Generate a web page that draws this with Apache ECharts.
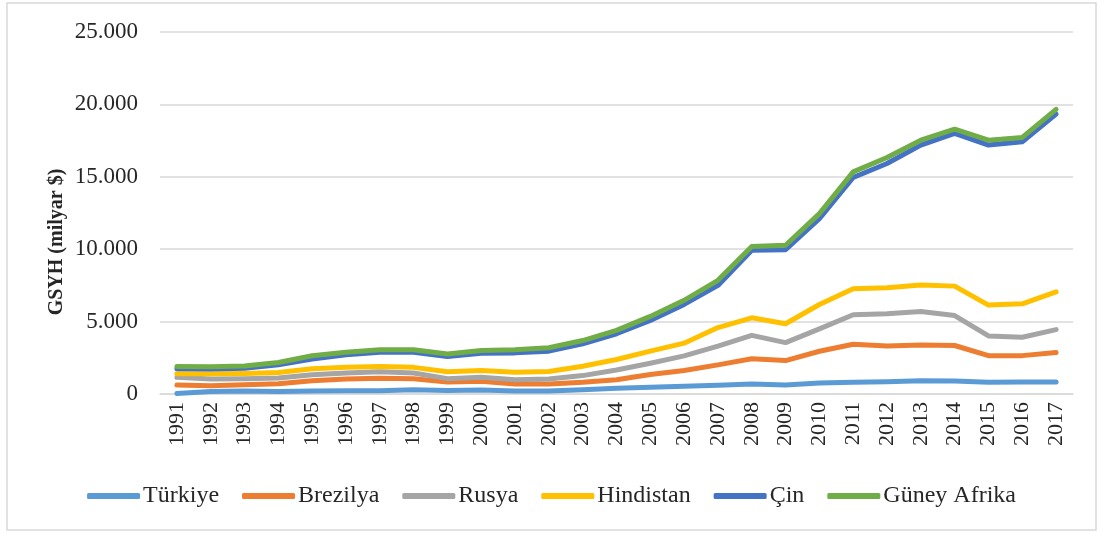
<!DOCTYPE html>
<html>
<head>
<meta charset="utf-8">
<script src="https://cdn.jsdelivr.net/npm/echarts@6/dist/echarts.min.js"></script>
<style>
html,body{margin:0;padding:0;background:#fff;}
#abc{width:1103px;height:534px;}
</style>
</head>
<body>
<div id="abc"></div>
<script>
//yillar (X ekseni)
var years=['1991','1992','1993','1994','1995','1996','1997','1998','1999','2000','2001','2002','2003','2004','2005','2006','2007','2008','2009','2010','2011','2012','2013','2014','2015','2016','2017'];
//grafikteki birikimli degerler (milyar $)
var turkiye=[30,180,210,180,210,230,230,300,250,280,210,210,300,390,460,530,600,690,620,760,810,850,920,900,810,830,830];
var brezilya=[620,570,640,710,920,1030,1080,1060,830,880,690,690,810,990,1340,1620,2010,2430,2310,2950,3440,3320,3390,3350,2650,2650,2860];
var rusya=[1150,1030,1060,1100,1330,1450,1540,1450,1060,1150,990,1040,1270,1660,2120,2630,3300,4050,3550,4500,5470,5540,5700,5420,4010,3920,4450];
var hindistan=[1400,1400,1420,1490,1740,1840,1900,1840,1530,1620,1500,1550,1920,2380,2960,3510,4590,5260,4850,6180,7270,7340,7520,7450,6140,6230,7060];
var cin=[1740,1720,1770,2020,2410,2710,2890,2890,2590,2820,2840,2960,3460,4160,5080,6190,7500,9920,9970,12110,14950,15920,17190,18000,17190,17420,19330];
var guneyAfrika=[1900,1880,1930,2180,2640,2890,3050,3050,2760,3000,3050,3190,3690,4390,5360,6470,7850,10180,10270,12460,15340,16330,17530,18290,17530,17720,19660];
var seriesNames=['Türkiye','Brezilya','Rusya','Hindistan','Çin','Güney Afrika'];
var colors=['#5B9BD5','#ED7D31','#A5A5A5','#FFC000','#4472C4','#70AD47'];
var allData=[turkiye,brezilya,rusya,hindistan,cin,guneyAfrika];

var font='"Liberation Serif", "Times New Roman", serif';
var myChart=echarts.init(document.getElementById('abc'));

var series=[];
for(var i=0;i<seriesNames.length;i++){
    series.push({
        name:seriesNames[i],
        type:'line',
        data:allData[i],
        symbol:'none',
        lineStyle:{width:5,color:colors[i],cap:'round',join:'round'},
        itemStyle:{color:colors[i]}
    });
}

var option={
    animation:false,
    textStyle:{fontFamily:font},
    graphic:[
        {
            type:'rect',
            shape:{x:7,y:3,width:1089,height:527},
            style:{fill:'none',stroke:'#d9d9d9',lineWidth:1.5},
            silent:true
        },
        {
            type:'text',
            x:57,y:242,
            rotation:Math.PI/2,
            style:{
                text:'GSYH (milyar $)',
                font:'bold 20px '+font,
                fill:'#262626',
                align:'center',
                verticalAlign:'middle'
            }
        }
    ],
    legend:{
        data:seriesNames,
        top:479,
        left:'center',
        icon:'roundRect',
        itemWidth:53,
        itemHeight:6,
        itemGap:23,
        textStyle:{fontFamily:font,fontSize:24,color:'#262626',padding:[0,0,0,-2]}
    },
    grid:{left:160,right:30,top:32,bottom:140},
    xAxis:{
        type:'category',
        data:years,
        boundaryGap:true,
        axisTick:{show:false},
        axisLine:{lineStyle:{color:'#d9d9d9',width:1.5}},
        axisLabel:{rotate:90,interval:0,margin:8,fontSize:22,color:'#262626',fontFamily:font}
    },
    yAxis:{
        type:'value',
        min:0,max:25000,interval:5000,
        axisLine:{show:false},
        axisTick:{show:false},
        splitLine:{lineStyle:{color:'#d9d9d9',width:1.5}},
        axisLabel:{
            margin:22,fontSize:23,color:'#262626',fontFamily:font,
            formatter:function(v){
                return v===0?'0':String(v).replace(/\B(?=(\d{3})+(?!\d))/g,'.');
            }
        }
    },
    series:series
};
myChart.setOption(option,true);
</script>
</body>
</html>
